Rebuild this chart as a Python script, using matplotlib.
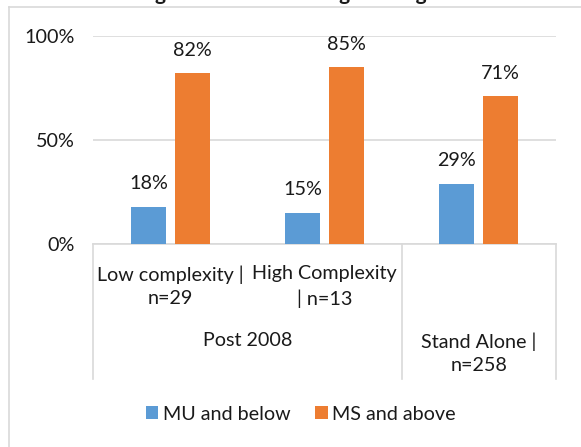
import numpy as np
import matplotlib
matplotlib.use("Agg")
import matplotlib.pyplot as plt
import matplotlib.transforms as mtransforms
from matplotlib.lines import Line2D
from matplotlib.patches import Patch

# ---------------- data ----------------
inner_labels = ["Low complexity |\nn=29", "High Complexity\n| n=13", ""]
outer_labels = ["Post 2008", "Stand Alone |\nn=258"]
outer_spans = [(0, 1), (2, 2)]
mu_below = [0.18, 0.15, 0.29]
ms_above = [0.82, 0.85, 0.71]
series_names = ["MU and below", "MS and above"]
ytick_values = [0.0, 0.5, 1.0]
ytick_labels = ["0%", "50%", "100%"]
title_text = "Figure 8: Overall Design Ratings"

# ---------------- style ----------------
W, H = 581, 447
DPI = 100
BLUE = "#5B9BD5"
ORANGE = "#ED7D31"
GRID = "#D9D9D9"
TXT = "#1A1A1A"
FONT = ["Lato", "DejaVu Sans"]
FS = 14.2

plt.rcParams["font.family"] = FONT
plt.rcParams["font.size"] = FS

fig = plt.figure(figsize=(W / DPI, H / DPI), dpi=DPI)
fig.patch.set_facecolor("white")

# axes in pixel positions
x0, x1 = 93.3, 555.7
ytop, ybot = 35.7, 244.0
ax = fig.add_axes([x0 / W, (H - ybot) / H, (x1 - x0) / W, (ybot - ytop) / H])

x = np.arange(len(mu_below))
bw = 0.224
off = 0.142
b1 = ax.bar(x - off, mu_below, bw, color=BLUE, zorder=3)
b2 = ax.bar(x + off, ms_above, bw, color=ORANGE, zorder=3)

for bars, vals in ((b1, mu_below), (b2, ms_above)):
    for r, v in zip(bars, vals):
        ax.annotate(f"{round(v * 100):d}%", (r.get_x() + r.get_width() / 2, v),
                    xytext=(0, 16.5), textcoords="offset points",
                    ha="center", va="center", color=TXT, fontsize=FS)

ax.set_xlim(-0.5, len(x) - 0.5)
ax.set_ylim(0, 1)
ax.set_yticks(ytick_values)
ax.set_yticklabels(ytick_labels, color=TXT, fontsize=FS)
ax.tick_params(axis="y", length=0, pad=13.5)
ax.set_xticks([])
ax.yaxis.grid(True, color=GRID, linewidth=1.2, zorder=0)
for s in ("top", "right", "left"):
    ax.spines[s].set_visible(False)
ax.spines["bottom"].set_color(GRID)
ax.spines["bottom"].set_linewidth(1.2)

# multi-level category axis
ph = ybot - ytop
tr = mtransforms.blended_transform_factory(ax.transData, ax.transAxes)
sep_bottom = -(379 - ybot) / ph
for xs in (-0.5, 1.5, len(x) - 0.5):
    ax.add_line(Line2D([xs, xs], [0, sep_bottom], transform=tr, color=GRID,
                       linewidth=1.2, clip_on=False))

LS = 1.42
inner_y = -(286.5 - ybot) / ph
for xi, lab in zip(x, inner_labels):
    if lab:
        ax.text(xi, inner_y, lab, transform=tr, ha="center", va="center",
                color=TXT, fontsize=FS, linespacing=LS, multialignment="center")

for (a, b), lab in zip(outer_spans, outer_labels):
    n = lab.count("\n") + 1
    cy = 340 if n == 1 else 353.5
    ax.text((a + b) / 2, -(cy - ybot) / ph, lab, transform=tr, ha="center",
            va="center", color=TXT, fontsize=FS, linespacing=LS,
            multialignment="center")

# legend
handles = [Patch(facecolor=BLUE, edgecolor="none"), Patch(facecolor=ORANGE, edgecolor="none")]
fig.legend(handles, series_names, loc="center", bbox_to_anchor=(301 / W, 1 - 414 / H),
           ncol=2, frameon=False, handlelength=0.62, handleheight=0.62,
           handletextpad=0.25, columnspacing=1.25, fontsize=FS, labelcolor=TXT)

# chart border (extends past right and bottom edges)
fig.add_artist(Line2D([9 / W, 9 / W], [0, 1 - 6.7 / H], transform=fig.transFigure,
                      color=GRID, linewidth=1.2))
fig.add_artist(Line2D([9 / W, 1], [1 - 6.7 / H, 1 - 6.7 / H], transform=fig.transFigure,
                      color=GRID, linewidth=1.2))

# title (clipped at the top edge, as in the reference)
fig.text(287 / W, 1 + 0.5 / H, title_text, ha="center", va="baseline",
         fontsize=15, fontweight="bold", color=TXT)

fig.savefig("out.png", dpi=DPI, facecolor="white")
